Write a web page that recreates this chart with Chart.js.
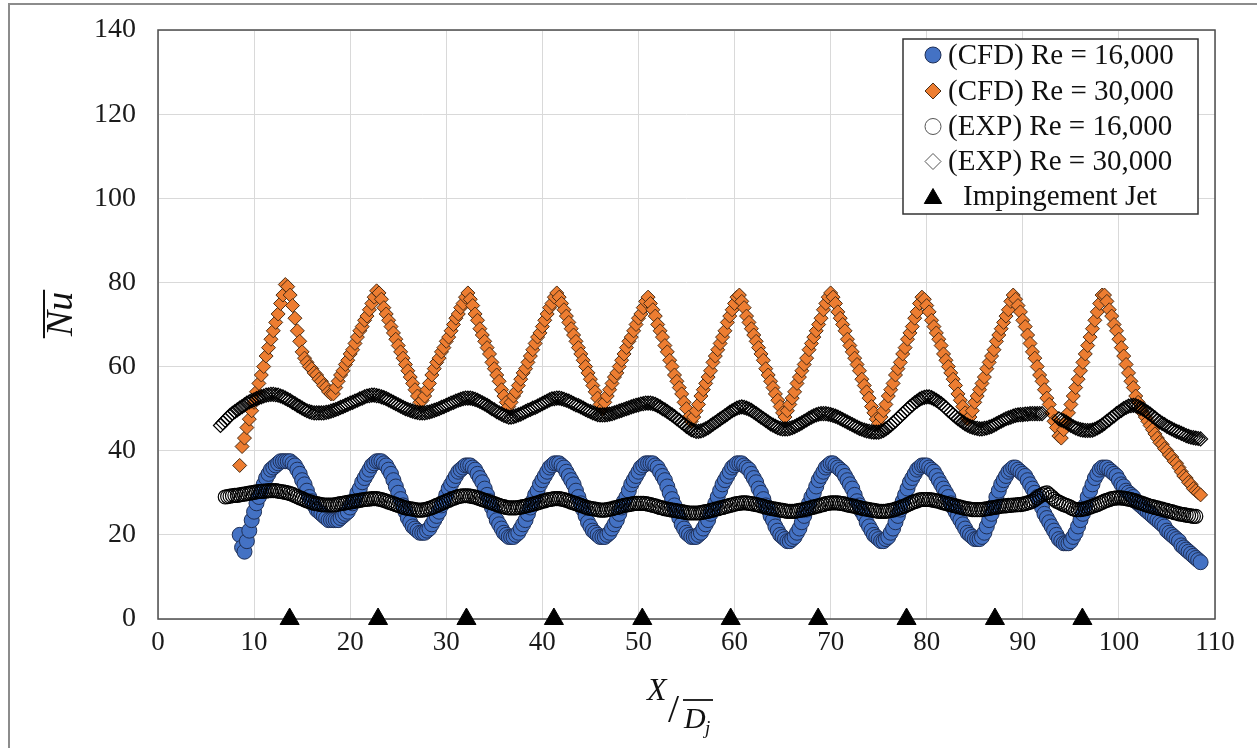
<!DOCTYPE html>
<html>
<head>
<meta charset="utf-8">
<script src="https://cdn.jsdelivr.net/npm/chart.js@4.4.0/dist/chart.umd.min.js"></script>
<style>
  html, body { margin: 0; padding: 0; background: #fff; }
  #wrap { position: relative; width: 1257px; height: 748px; overflow: hidden; }
  #frame { position: absolute; left: 8px; top: 3px; width: 1300px; height: 800px;
           border-left: 2px solid #8c8c8c; border-top: 2px solid #8c8c8c; }
  #nuChart { position: absolute; left: 0; top: 0; }
</style>
</head>
<body>
<div id="wrap">
  <div id="frame"></div>
  <canvas id="nuChart" width="1257" height="748"></canvas>
</div>
<script>
// jet positions (X/Dj)
const jetX = [13.7, 22.9, 32.1, 41.2, 50.4, 59.6, 68.7, 77.9, 87.1, 96.2];

// all profiles are sampled every 0.25 X/Dj
const sampleStep = 0.25;

// CFD averaged Nu, from X/Dj = 8.5
const cfdStart = 8.5;
const cfdRe16k = [
  20, 17, 16, 18.5, 21, 23.5, 25.5, 27.5, 29, 30.5,
  32, 33.5, 34.5, 35.5, 36, 36.5, 37, 37.5, 37.5, 37.5,
  37.5, 37.5, 37, 36.5, 35.5, 34.5, 33, 32, 30.5, 29,
  28, 27, 26, 25.5, 25, 24.5, 24, 23.5, 23.5, 23.5,
  23.5, 23.5, 24, 24.5, 25, 25.5, 26.5, 27.5, 28.5, 30,
  31, 32.5, 33.5, 34.5, 35.5, 36.5, 37, 37.5, 37.5, 37.5,
  37, 36.5, 35.5, 34.5, 33, 31.5, 30, 28.5, 27, 25.5,
  24, 23, 22, 21.5, 21, 20.5, 20.5, 20.5, 21, 21.5,
  22.5, 23.5, 24.5, 25.5, 27, 28, 29.5, 31, 32, 33,
  34, 35, 35.5, 36, 36.5, 36.5, 36.5, 36, 35.5, 34.5,
  33.5, 32.5, 31, 29.5, 28, 26.5, 25, 23.5, 22.5, 21.5,
  20.5, 20, 19.5, 19.5, 19.5, 20, 20.5, 21.5, 22.5, 23.5,
  25, 26.5, 28, 29.5, 30.5, 32, 33, 34, 35, 36,
  36.5, 37, 37, 37, 36.5, 36, 35, 34, 33, 32,
  30.5, 29, 27.5, 26, 24.5, 23, 22, 21, 20.5, 20,
  19.5, 19.5, 19.5, 20, 20.5, 21.5, 22.5, 23.5, 25, 26.5,
  28, 29, 30.5, 32, 33, 34, 35, 36, 36.5, 37,
  37, 37, 37, 36.5, 36, 35, 34, 33, 31.5, 30,
  28.5, 27, 25.5, 24, 22.5, 21.5, 20.5, 20, 19.5, 19.5,
  19.5, 20, 20.5, 21.5, 22.5, 23.5, 25, 26, 27.5, 29,
  30.5, 32, 33, 34, 35, 36, 36.5, 37, 37, 37,
  36.5, 36, 35.5, 34.5, 33.5, 32.5, 31, 30, 28.5, 27,
  26, 24.5, 23.5, 22, 21, 20, 19.5, 19, 18.5, 18.5,
  19, 19.5, 20.5, 21.5, 23, 24.5, 26, 27.5, 29, 30,
  31.5, 33, 34, 35, 36, 36.5, 37, 37, 36.5, 36,
  35.5, 35, 34, 33, 32, 31, 29.5, 28, 27, 25.5,
  24.5, 23, 22, 21, 20, 19.5, 19, 18.5, 18.5, 19,
  19.5, 20.5, 21.5, 23, 24.5, 26, 28, 29.5, 31, 32.5,
  33.5, 34.5, 35.5, 36, 36.5, 36.5, 36.5, 36, 35.5, 35,
  34, 33, 32, 31, 30, 29, 27.5, 26.5, 25.5, 24.5,
  23.5, 22.5, 21.5, 20.5, 20, 19.5, 19, 19, 19, 19.5,
  20.5, 22, 23.5, 25, 27, 29, 30.5, 32, 33, 34,
  35, 35.5, 36, 36, 35.5, 35, 34.5, 34, 33, 32,
  31, 30, 29, 28, 26.5, 25, 24, 23, 22, 21,
  20, 19, 18.5, 18, 18, 18, 18.5, 19.5, 20.5, 22,
  23.5, 25, 27, 29, 30.5, 32, 33.5, 34.5, 35.5, 36,
  36, 36, 35.5, 35, 34.5, 34, 33, 32, 31.5, 30.5,
  30, 29.5, 29, 28, 27.5, 27, 26.5, 26, 25.5, 25,
  24.5, 24, 23.5, 23, 22.5, 22, 21, 20.5, 20, 19.5,
  19, 18.5, 17.5, 17, 16.5, 16, 15.5, 15, 14.5, 14,
  13.5
];
const cfdRe30k = [
  36.5, 41, 43, 45.5, 47.5, 49.5, 51.5, 54, 56, 58,
  60, 62.5, 64.5, 66.5, 68.5, 70.5, 72.5, 75, 77, 79.5,
  79, 77, 74.5, 71.5, 68.5, 66, 63.5, 62, 61, 60,
  59.5, 58.5, 58, 57, 56.5, 55.5, 55, 54, 53.5, 53.5,
  55, 56.5, 58, 59, 60.5, 61.5, 63, 64, 65.5, 67,
  68.5, 69.5, 71, 72, 73.5, 75, 76.5, 78, 77.5, 76,
  74, 72.5, 71, 69.5, 68, 66.5, 65, 63.5, 62, 60.5,
  59, 57.5, 56, 54.5, 53, 51.5, 52, 53, 54.5, 56,
  58, 59.5, 61, 62, 63.5, 64.5, 66, 67, 68.5, 70,
  71.5, 72.5, 74, 75, 76.5, 77.5, 76, 74.5, 72.5, 71,
  69, 67.5, 66, 64.5, 63, 61, 59.5, 58, 56.5, 54.5,
  53, 51.5, 50.5, 51.5, 53, 54, 55.5, 57, 58.5, 59.5,
  61, 62.5, 64, 65.5, 67, 68, 69.5, 71, 72.5, 74,
  75, 76.5, 77.5, 76.5, 75, 73.5, 72, 70.5, 69, 67.5,
  66, 64.5, 63, 61.5, 60, 58.5, 57, 55.5, 54, 52.5,
  51, 50, 51.5, 53, 54.5, 56, 57.5, 58.5, 60, 61.5,
  63, 64.5, 66, 67, 68.5, 70, 71.5, 72.5, 74, 75.5,
  76.5, 75, 73.5, 72, 70, 68.5, 67, 65, 63.5, 61.5,
  60, 58, 56.5, 55, 53.5, 51.5, 50, 48, 47, 48,
  49.5, 51, 53, 54.5, 56, 57.5, 59, 61, 62.5, 64,
  65.5, 67, 68.5, 70.5, 72, 73.5, 75, 76.5, 77, 75.5,
  74, 72, 70.5, 69, 67.5, 66, 64.5, 63, 61.5, 59.5,
  58, 56.5, 55, 53.5, 52, 50.5, 49, 48, 49.5, 51,
  52.5, 54, 56, 57.5, 59, 60.5, 62, 64, 65.5, 67,
  68.5, 70, 71.5, 73.5, 75, 76.5, 77.5, 76.5, 75, 73,
  71.5, 70, 68.5, 66.5, 65, 63.5, 62, 60.5, 59, 57,
  55.5, 54, 52.5, 50.5, 49, 47.5, 46.5, 48, 49.5, 51,
  53, 54.5, 56, 58, 59.5, 61, 63, 64.5, 66.5, 68,
  69.5, 71.5, 73, 75, 76.5, 76, 74.5, 73, 71, 69.5,
  68, 66.5, 65, 63, 61.5, 60, 58.5, 57, 55.5, 53.5,
  52, 50.5, 49, 47.5, 48, 49.5, 51.5, 53, 54.5, 56,
  57.5, 59.5, 61, 62.5, 64, 66, 67.5, 69, 70.5, 72,
  73.5, 75.5, 77, 76, 74.5, 73, 71, 69.5, 67.5, 65.5,
  63.5, 62, 60, 58, 56.5, 54.5, 52.5, 51, 49, 47,
  45.5, 43.5, 43, 45, 47, 49, 51, 53, 55, 57,
  59, 61, 63, 65, 67, 69, 71, 73, 75, 77,
  77, 75.5, 73.5, 72, 70, 68.5, 66.5, 64.5, 62.5, 60.5,
  58.5, 56.5, 55, 53, 51.5, 50, 49, 48, 47, 46,
  45, 44, 43, 42, 41.5, 40.5, 40, 39, 38.5, 37.5,
  37, 36, 35, 34, 33.5, 32.5, 32, 31, 30.5, 30,
  29.5
];

// measured Nu
const exp16kStart = 7.0;
const exp16k = [
  29, 29.1, 29.2, 29.3, 29.4, 29.4, 29.5, 29.6, 29.7, 29.8,
  29.9, 30, 30.1, 30.2, 30.3, 30.3, 30.4, 30.4, 30.5, 30.5,
  30.5, 30.5, 30.4, 30.3, 30.2, 30.1, 30, 29.8, 29.6, 29.3,
  29.1, 28.8, 28.6, 28.3, 28.1, 27.9, 27.7, 27.5, 27.4, 27.3,
  27.2, 27.1, 27.1, 27.1, 27.1, 27.1, 27.2, 27.3, 27.4, 27.5,
  27.6, 27.7, 27.8, 27.9, 28, 28.1, 28.2, 28.3, 28.4, 28.5,
  28.5, 28.6, 28.6, 28.6, 28.5, 28.4, 28.2, 28, 27.8, 27.6,
  27.4, 27.2, 27, 26.8, 26.6, 26.4, 26.3, 26.2, 26.1, 26,
  25.9, 25.9, 25.9, 26, 26.1, 26.3, 26.5, 26.7, 27, 27.2,
  27.5, 27.7, 28, 28.2, 28.5, 28.7, 28.9, 29.1, 29.2, 29.3,
  29.3, 29.3, 29.2, 29.1, 29, 28.8, 28.6, 28.4, 28.2, 28,
  27.8, 27.6, 27.4, 27.2, 27, 26.8, 26.7, 26.5, 26.4, 26.4,
  26.4, 26.4, 26.5, 26.6, 26.7, 26.8, 27, 27.1, 27.3, 27.4,
  27.6, 27.8, 28, 28.1, 28.3, 28.4, 28.5, 28.6, 28.6, 28.6,
  28.5, 28.4, 28.2, 28, 27.8, 27.6, 27.4, 27.2, 27, 26.8,
  26.6, 26.4, 26.3, 26.2, 26.1, 26, 25.9, 25.9, 25.9, 26,
  26.1, 26.2, 26.4, 26.5, 26.7, 26.8, 27, 27.1, 27.2, 27.3,
  27.4, 27.5, 27.5, 27.5, 27.5, 27.4, 27.3, 27.2, 27, 26.9,
  26.7, 26.5, 26.4, 26.2, 26.1, 26, 25.9, 25.8, 25.7, 25.6,
  25.5, 25.4, 25.3, 25.2, 25.2, 25.2, 25.2, 25.2, 25.3, 25.4,
  25.5, 25.6, 25.8, 25.9, 26.1, 26.2, 26.4, 26.5, 26.7, 26.8,
  27, 27.1, 27.3, 27.4, 27.5, 27.6, 27.6, 27.6, 27.5, 27.4,
  27.3, 27.2, 27.1, 26.9, 26.8, 26.6, 26.5, 26.3, 26.2, 26.1,
  26, 25.9, 25.8, 25.7, 25.6, 25.6, 25.6, 25.6, 25.7, 25.8,
  25.9, 26, 26.2, 26.3, 26.5, 26.6, 26.8, 26.9, 27.1, 27.2,
  27.4, 27.5, 27.6, 27.6, 27.6, 27.6, 27.5, 27.4, 27.3, 27.1,
  27, 26.9, 26.8, 26.6, 26.5, 26.3, 26.2, 26.1, 26, 25.9,
  25.8, 25.7, 25.6, 25.6, 25.6, 25.6, 25.7, 25.8, 25.9, 26.1,
  26.3, 26.5, 26.7, 26.9, 27.2, 27.4, 27.7, 27.9, 28.1, 28.3,
  28.4, 28.4, 28.4, 28.4, 28.3, 28.2, 28.1, 28, 27.8, 27.6,
  27.5, 27.3, 27.2, 27, 26.9, 26.7, 26.6, 26.4, 26.3, 26.2,
  26.1, 26, 26, 26, 26, 26, 26.1, 26.2, 26.3, 26.4,
  26.5, 26.6, 26.7, 26.8, 26.9, 26.9, 27, 27, 27.1, 27.1,
  27.2, 27.2, 27.3, 27.4, 27.6, 27.8, 28, 28.4, 28.8, 29.2,
  29.5, 29.8, 30, 29.5, 29, 28.5, 28, 27.8, 27.5, 27.2,
  27, 26.8, 26.5, 26.2, 26, 26, 26, 26.1, 26.2, 26.4,
  26.6, 26.8, 27, 27.2, 27.5, 27.7, 28, 28.2, 28.4, 28.6,
  28.7, 28.8, 28.8, 28.8, 28.7, 28.6, 28.5, 28.4, 28.2, 28,
  27.8, 27.6, 27.4, 27.2, 27, 26.8, 26.7, 26.5, 26.4, 26.2,
  26.1, 25.9, 25.8, 25.6, 25.5, 25.3, 25.2, 25, 24.9, 24.8,
  24.7, 24.6, 24.5, 24.4, 24.4
];
const exp30kStart = 6.5;
const exp30k = [
  46, 46.6, 47.2, 47.8, 48.4, 48.9, 49.3, 49.7, 50.1, 50.5,
  50.9, 51.3, 51.6, 51.9, 52.1, 52.4, 52.6, 52.8, 53, 53.2,
  53.3, 53.4, 53.4, 53.3, 53.2, 53, 52.8, 52.5, 52.2, 51.9,
  51.5, 51.2, 50.8, 50.5, 50.1, 49.8, 49.5, 49.3, 49.1, 49,
  49, 49, 49, 49, 49.1, 49.2, 49.4, 49.6, 49.8, 50,
  50.3, 50.5, 50.8, 51, 51.3, 51.5, 51.8, 52, 52.3, 52.5,
  52.8, 53, 53.1, 53.2, 53.2, 53.1, 53, 52.8, 52.6, 52.4,
  52.1, 51.8, 51.5, 51.2, 50.9, 50.6, 50.3, 50, 49.8, 49.6,
  49.4, 49.2, 49.1, 49, 49, 49, 49.1, 49.2, 49.4, 49.6,
  49.8, 50, 50.3, 50.5, 50.8, 51, 51.3, 51.5, 51.8, 52,
  52.2, 52.4, 52.5, 52.5, 52.5, 52.4, 52.2, 52, 51.7, 51.4,
  51.1, 50.8, 50.4, 50, 49.7, 49.3, 49, 48.7, 48.4, 48.2,
  48, 48, 48.1, 48.3, 48.5, 48.7, 49, 49.3, 49.6, 49.8,
  50.1, 50.3, 50.6, 50.9, 51.2, 51.5, 51.8, 52.1, 52.3, 52.4,
  52.5, 52.5, 52.4, 52.2, 52, 51.8, 51.5, 51.2, 50.9, 50.7,
  50.4, 50.1, 49.8, 49.5, 49.3, 49, 48.8, 48.6, 48.5, 48.5,
  48.5, 48.6, 48.7, 48.8, 49, 49.2, 49.4, 49.6, 49.8, 50,
  50.2, 50.4, 50.6, 50.8, 50.9, 51.1, 51.2, 51.3, 51.3, 51.3,
  51.2, 51, 50.7, 50.4, 50, 49.7, 49.3, 48.9, 48.5, 48.1,
  47.6, 47.2, 46.7, 46.3, 45.8, 45.4, 45, 44.8, 44.6, 44.6,
  44.7, 44.9, 45.2, 45.5, 45.9, 46.3, 46.7, 47.1, 47.5, 47.9,
  48.3, 48.7, 49.1, 49.5, 49.8, 50.1, 50.3, 50.4, 50.3, 50.1,
  49.9, 49.6, 49.2, 48.8, 48.4, 48, 47.6, 47.2, 46.8, 46.4,
  46.1, 45.8, 45.5, 45.3, 45.2, 45.2, 45.2, 45.3, 45.5, 45.7,
  46, 46.3, 46.6, 47, 47.3, 47.7, 48, 48.3, 48.5, 48.7,
  48.8, 48.8, 48.8, 48.7, 48.6, 48.4, 48.2, 48, 47.7, 47.4,
  47.1, 46.8, 46.5, 46.2, 45.9, 45.6, 45.3, 45.1, 44.9, 44.7,
  44.6, 44.5, 44.4, 44.4, 44.4, 44.6, 44.8, 45.2, 45.6, 46.1,
  46.6, 47.1, 47.7, 48.2, 48.8, 49.3, 49.9, 50.4, 50.9, 51.4,
  51.8, 52.2, 52.5, 52.7, 52.8, 52.8, 52.6, 52.3, 52, 51.6,
  51.2, 50.7, 50.2, 49.6, 49.1, 48.6, 48.1, 47.6, 47.2, 46.8,
  46.4, 46.1, 45.8, 45.6, 45.4, 45.3, 45.2, 45.2, 45.3, 45.4,
  45.6, 45.8, 46.1, 46.4, 46.7, 47, 47.3, 47.6, 47.8, 48,
  48.2, 48.4, 48.5, 48.6, 48.6, 48.7, 48.7, 48.8, 48.8, 48.8,
  48.8, 48.8, 48.8, null, null, null, null, null, null, 47.6,
  47.3, 47.1, 46.8, 46.4, 46, 45.7, 45.4, 45.2, 45, 44.9,
  44.8, 44.8, 44.8, 44.9, 45.1, 45.4, 45.7, 46.1, 46.5, 47,
  47.4, 47.9, 48.3, 48.8, 49.2, 49.6, 50, 50.3, 50.6, 50.7,
  50.8, 50.7, 50.5, 50.2, 49.9, 49.5, 49.1, 48.7, 48.2, 47.8,
  47.3, 46.9, 46.5, 46.2, 45.8, 45.5, 45.2, 44.9, 44.6, 44.4,
  44.1, 43.9, 43.6, 43.4, 43.2, 43.1, 43, 42.9, 42.8
];

function toPoints(start, step, values) {
  return values
    .map((v, i) => ({ x: start + i * step, y: v }))
    .filter(p => p.y !== null);
}

const serif = '"Liberation Serif", "Times New Roman", serif';

const datasets = [
  {
    label: '(CFD) Re = 16,000',
    data: toPoints(cfdStart, sampleStep, cfdRe16k),
    pointStyle: 'circle', pointRadius: 7.5,
    backgroundColor: '#4472C4', borderColor: '#1f2f55', borderWidth: 1,
    order: 5
  },
  {
    label: '(CFD) Re = 30,000',
    data: toPoints(cfdStart, sampleStep, cfdRe30k),
    pointStyle: 'rectRot', pointRadius: 7,
    backgroundColor: '#ED7D31', borderColor: '#4a2c14', borderWidth: 1,
    order: 4
  },
  {
    label: '(EXP) Re = 16,000',
    data: toPoints(exp16kStart, sampleStep, exp16k),
    pointStyle: 'circle', pointRadius: 7,
    backgroundColor: 'rgba(255,255,255,0)', borderColor: '#000', borderWidth: 1.2,
    order: 3
  },
  {
    label: '(EXP) Re = 30,000',
    data: toPoints(exp30kStart, sampleStep, exp30k),
    pointStyle: 'rectRot', pointRadius: 7,
    backgroundColor: 'rgba(255,255,255,0)', borderColor: '#000', borderWidth: 1.2,
    order: 2
  },
  {
    label: 'Impingement Jet',
    data: jetX.map(x => ({ x: x, y: 0 })),
    pointStyle: 'triangle', pointRadius: 11,
    backgroundColor: '#000', borderColor: '#000', borderWidth: 1,
    clip: false,
    order: 1
  }
];

// small marker painter for the legend box
function marker(ctx, style, x, y, r, fill, stroke, lw) {
  ctx.beginPath();
  if (style === 'circle') {
    ctx.arc(x, y, r, 0, Math.PI * 2);
  } else if (style === 'rectRot') {
    ctx.moveTo(x - r, y); ctx.lineTo(x, y - r); ctx.lineTo(x + r, y); ctx.lineTo(x, y + r);
    ctx.closePath();
  } else {
    ctx.moveTo(x, y - r); ctx.lineTo(x + r * 0.87, y + r * 0.5); ctx.lineTo(x - r * 0.87, y + r * 0.5);
    ctx.closePath();
  }
  ctx.fillStyle = fill; ctx.fill();
  ctx.lineWidth = lw; ctx.strokeStyle = stroke; ctx.stroke();
}

const plotFrame = {
  id: 'plotFrame',
  beforeDatasetsDraw(chart) {
    const { ctx, chartArea: a } = chart;
    ctx.save();
    ctx.strokeStyle = '#4d4d4d';
    ctx.lineWidth = 1.5;
    ctx.strokeRect(a.left, a.top, a.right - a.left, a.bottom - a.top);
    ctx.restore();
  }
};

const legendBox = {
  id: 'legendBox',
  afterDraw(chart) {
    const ctx = chart.ctx;
    const bx = 903, by = 39, bw = 295, bh = 175;
    ctx.save();
    ctx.fillStyle = '#fff';
    ctx.fillRect(bx, by, bw, bh);
    ctx.strokeStyle = '#333';
    ctx.lineWidth = 1.5;
    ctx.strokeRect(bx, by, bw, bh);
    const rows = [55, 91, 126.5, 161.5, 196.5];
    chart.data.datasets.forEach((ds, i) => {
      const y = rows[i];
      const open = ds.backgroundColor.startsWith('rgba');
      const fill = open ? '#fff' : ds.backgroundColor;
      const stroke = open ? '#555' : ds.borderColor;
      const jet = ds.pointStyle === 'triangle';
      marker(ctx, ds.pointStyle, 933, jet ? y + 2 : y, jet ? 10 : 8, fill, stroke, 1);
      ctx.fillStyle = '#111';
      ctx.font = '29px ' + serif;
      ctx.textBaseline = 'middle';
      ctx.textAlign = 'left';
      ctx.fillText(ds.label, jet ? 963 : 948, y + 1);
    });
    ctx.restore();
  }
};

const axisTitles = {
  id: 'axisTitles',
  afterDraw(chart) {
    const ctx = chart.ctx;
    ctx.save();
    ctx.fillStyle = '#111';
    ctx.strokeStyle = '#111';
    ctx.lineWidth = 2;
    // y title: Nu with a bar, reading upwards
    ctx.translate(64, 314);
    ctx.rotate(-Math.PI / 2);
    ctx.font = 'italic 38px ' + serif;
    ctx.textAlign = 'center';
    ctx.textBaseline = 'alphabetic';
    const nw = ctx.measureText('Nu').width;
    ctx.fillText('Nu', 0, 8);
    ctx.beginPath();
    ctx.moveTo(-nw / 2 - 2, -20); ctx.lineTo(nw / 2 + 2, -20);
    ctx.stroke();
    ctx.setTransform(1, 0, 0, 1, 0, 0);
    // x title: X over D_j with a bar on D_j
    ctx.textAlign = 'left';
    ctx.font = 'italic 32px ' + serif;
    ctx.fillText('X', 647, 700);
    ctx.font = '40px ' + serif;
    ctx.fillText('/', 668, 722);
    ctx.font = 'italic 30px ' + serif;
    ctx.fillText('D', 684, 728);
    ctx.font = 'italic 19px ' + serif;
    ctx.fillText('j', 705, 734);
    ctx.lineWidth = 1.8;
    ctx.beginPath();
    ctx.moveTo(683, 700); ctx.lineTo(713, 700);
    ctx.stroke();
    ctx.restore();
  }
};

new Chart(document.getElementById('nuChart'), {
  type: 'scatter',
  data: { datasets: datasets },
  options: {
    responsive: false,
    devicePixelRatio: 1,
    animation: false,
    layout: { padding: { top: 30, right: 42, left: 0, bottom: 0 } },
    plugins: {
      legend: { display: false },
      tooltip: { enabled: false }
    },
    scales: {
      x: {
        type: 'linear', min: 0, max: 110,
        ticks: { stepSize: 10, padding: 8, color: '#1a1a1a', font: { family: serif, size: 27 } },
        grid: { color: '#d9d9d9', drawTicks: false },
        border: { display: false },
        afterFit(scale) {
          scale.height = 129;
          scale.paddingLeft = 0;
          scale.paddingRight = 0;
        }
      },
      y: {
        min: 0, max: 140,
        ticks: { stepSize: 20, padding: 22, color: '#1a1a1a', font: { family: serif, size: 28 } },
        grid: { color: '#d9d9d9', drawTicks: false },
        border: { display: false },
        afterFit(scale) {
          scale.width = 158;
          scale.paddingTop = 0;
          scale.paddingBottom = 0;
        }
      }
    }
  },
  plugins: [plotFrame, legendBox, axisTitles]
});
</script>
</body>
</html>
